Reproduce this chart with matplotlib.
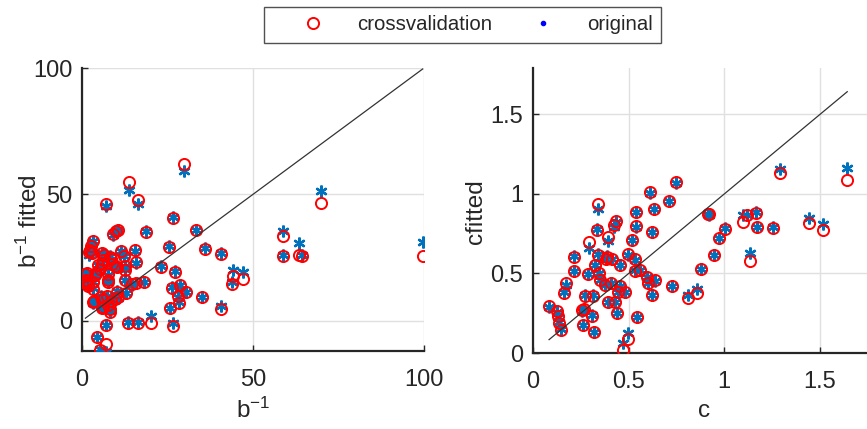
import numpy as np
import matplotlib
matplotlib.use("Agg")
import matplotlib.pyplot as plt
from matplotlib.lines import Line2D

plt.rcParams['font.family'] = ['Liberation Sans', 'DejaVu Sans']
plt.rcParams['mathtext.fontset'] = 'custom'
plt.rcParams['mathtext.rm'] = 'Liberation Sans'
plt.rcParams['mathtext.it'] = 'Liberation Sans:italic'

# b^-1: measured value, fit on all data (original), fit in cross validation
b_inv = [1.0, 1.1, 1.2, 1.3, 1.5, 1.8, 1.8, 2.0, 2.3, 2.6, 2.8, 3.1, 3.2, 3.3, 3.2, 3.5,
         3.8, 4.2, 4.5, 4.7, 5.2, 5.3, 5.6, 5.8, 5.8, 5.8, 5.8, 6.1, 6.1, 6.3, 7.0, 7.1,
         7.1, 7.2, 7.6, 7.6, 7.7, 7.7, 8.1, 8.2, 8.2, 8.6, 8.6, 8.7, 9.2, 9.6, 9.6, 10.0,
         10.1, 10.1, 10.5, 10.6, 11.5, 12.2, 12.5, 12.5, 12.6, 13.0, 13.5, 13.6, 14.5, 15.6,
         15.9, 15.9, 16.3, 16.4, 18.0, 18.8, 20.1, 23.2, 25.4, 25.8, 26.2, 26.5, 26.6, 27.2,
         28.1, 28.3, 28.7, 29.7, 30.4, 33.2, 35.0, 36.0, 40.6, 40.7, 43.8, 44.2, 47.0, 58.7,
         58.7, 63.4, 64.4, 70.0, 99.6]
b_orig = [18.2, 16.0, 14.5, 15.5, 18.9, 13.6, 14.2, 26.0, 28.1, 29.3, 26.8, 31.5, 15.5, 12.9, 7.0, 7.8,
          18.2, 18.8, -6.5, 22.1, -11.2, 20.8, 9.6, 8.3, 5.0, 22.8, 26.8, 5.7, 24.1, 25.6, -12.5, 45.3,
          -1.6, 9.6, 15.5, 18.2, 16.2, 6.3, 3.7, 25.4, 4.3, 7.6, 24.1, 22.8, 34.0, 21.5, 8.3, 35.3,
          11.6, 21.5, 9.0, 35.8, 27.4, 25.4, 20.4, 16.2, 21.5, 10.9, -0.5, 51.8, 14.2, 27.7,
          23.0, 14.9, 46.2, -0.5, 15.2, 35.3, 1.7, 21.5, 29.4, 5.2, 13.3, 41.0, -0.9, 19.5,
          9.4, 7.2, 14.2, 59.4, 11.4, 36.0, 9.4, 28.6, 6.0, 26.7, 15.5, 19.9, 19.1, 35.6,
          25.8, 30.7, 26.0, 51.2, 31.1]
b_cv = [18.4, 16.2, 14.8, 15.3, 19.0, 13.9, 14.5, 27.0, 28.0, 29.5, 26.6, 31.7, 15.3, 12.7, 7.2, 7.6,
        18.0, 19.0, -6.6, 22.0, -11.6, 20.6, 9.4, 8.2, 5.1, 22.9, 26.9, 5.5, 24.0, 25.8, -9.3, 46.2,
        -1.8, 9.8, 15.4, 18.4, 16.0, 6.1, 3.6, 25.2, 4.5, 7.8, 24.3, 22.6, 34.2, 21.7, 8.5, 35.5,
        11.5, 21.3, 9.2, 36.0, 27.6, 25.6, 20.2, 16.0, 21.7, 11.1, -0.9, 54.7, 14.4, 27.9,
        23.2, 15.1, 47.8, -0.9, 15.4, 35.1, -0.9, 21.3, 29.2, 5.0, 13.1, 40.8, -2.2, 19.1,
        9.6, 7.0, 14.0, 62.1, 11.2, 35.8, 9.2, 28.4, 4.6, 26.5, 14.6, 17.5, 16.5, 33.4,
        25.4, 26.1, 25.4, 46.4, 25.6]

# c: measured value, original fit, cross validation fit
c_val = [0.084, 0.124, 0.129, 0.136, 0.146, 0.164, 0.171, 0.216, 0.216, 0.255, 0.263, 0.268,
         0.272, 0.289, 0.293, 0.310, 0.315, 0.320, 0.324, 0.333, 0.338, 0.341, 0.345, 0.350,
         0.376, 0.380, 0.385, 0.392, 0.394, 0.408, 0.415, 0.425, 0.429, 0.434, 0.438, 0.446,
         0.453, 0.455, 0.472, 0.481, 0.498, 0.498, 0.516, 0.533, 0.533, 0.537, 0.538, 0.542,
         0.559, 0.594, 0.603, 0.612, 0.620, 0.624, 0.634, 0.638, 0.712, 0.725, 0.746, 0.812,
         0.856, 0.877, 0.916, 0.922, 0.945, 0.974, 1.004, 1.100, 1.117, 1.134, 1.166, 1.169,
         1.253, 1.291, 1.444, 1.514, 1.643]
c_orig = [0.290, 0.255, 0.228, 0.192, 0.150, 0.384, 0.430, 0.612, 0.518, 0.266, 0.176, 0.272,
          0.362, 0.497, 0.658, 0.236, 0.362, 0.134, 0.553, 0.778, 0.904, 0.620, 0.500, 0.459,
          0.428, 0.589, 0.610, 0.706, 0.323, 0.438, 0.589, 0.795, 0.319, 0.826, 0.250, 0.386,
          0.424, 0.553, 0.061, 0.386, 0.124, 0.616, 0.711, 0.585, 0.522, 0.792, 0.889, 0.228,
          0.522, 0.480, 0.438, 1.005, 0.365, 0.763, 0.904, 0.455, 0.958, 0.421, 1.070, 0.365,
          0.400, 0.526, 0.874, 0.868, 0.616, 0.721, 0.785, 0.868, 0.868, 0.627, 0.887, 0.794,
          0.795, 1.155, 0.847, 0.811, 1.162]
c_cv = [0.298, 0.262, 0.232, 0.187, 0.145, 0.379, 0.438, 0.606, 0.514, 0.268, 0.176, 0.275,
        0.358, 0.497, 0.700, 0.233, 0.358, 0.130, 0.553, 0.774, 0.935, 0.616, 0.505, 0.459,
        0.428, 0.592, 0.605, 0.731, 0.323, 0.438, 0.589, 0.805, 0.319, 0.830, 0.250, 0.386,
        0.424, 0.553, 0.019, 0.386, 0.086, 0.620, 0.711, 0.589, 0.518, 0.799, 0.889, 0.228,
        0.522, 0.480, 0.438, 1.010, 0.365, 0.763, 0.904, 0.459, 0.958, 0.421, 1.078, 0.344,
        0.379, 0.526, 0.874, 0.872, 0.616, 0.721, 0.778, 0.826, 0.868, 0.579, 0.882, 0.794,
        0.788, 1.130, 0.816, 0.774, 1.088]

blue = (0.0, 0.447, 0.741)
axcol = (0.15, 0.15, 0.15)
tick_fs = 17
label_fs = 17.5

fig = plt.figure(figsize=(8.67, 4.29), dpi=100)
ax1 = fig.add_axes([82 / 867, 78 / 429, 342 / 867, 283 / 429])
ax2 = fig.add_axes([533 / 867, 76 / 429, 342 / 867, 285 / 429])


def scatter_panel(ax, x, y_orig, y_cv):
    ax.plot(x, y_orig, linestyle='none', marker=(6, 2, 0), markersize=8.5,
            markeredgewidth=1.7, color=blue, zorder=3)
    ax.plot(x, y_cv, linestyle='none', marker='o', markersize=8,
            markerfacecolor='none', markeredgecolor='red', markeredgewidth=1.4, zorder=4)
    lo, hi = min(x), max(x)
    ax.plot([lo, hi], [lo, hi], color=(0.2, 0.2, 0.2), linewidth=0.9, zorder=5)
    ax.grid(True, color=(0.88, 0.88, 0.88), linewidth=1.0)
    ax.set_axisbelow(True)
    for side in ('top', 'right'):
        ax.spines[side].set_visible(False)
    for side in ('left', 'bottom'):
        ax.spines[side].set_color(axcol)
        ax.spines[side].set_linewidth(1.6)
    ax.tick_params(direction='in', length=4, width=1, colors=axcol,
                   labelsize=tick_fs, labelcolor=axcol)
    ax.tick_params(axis='x', pad=13)
    ax.tick_params(axis='y', pad=7)


scatter_panel(ax1, b_inv, b_orig, b_cv)
ax1.set_xlim(0, 100)
ax1.set_ylim(-12, 100)
ax1.set_xticks([0, 50, 100])
ax1.set_yticks([0, 50, 100])
ax1.set_xlabel('b$^{-1}$', fontsize=label_fs, color=axcol, labelpad=5)
ax1.set_ylabel('b$^{-1}$ fitted', fontsize=label_fs, color=axcol)
ax1.yaxis.set_label_coords(-0.118, 0.459)

scatter_panel(ax2, c_val, c_orig, c_cv)
ax2.set_xlim(0, 1.788)
ax2.set_ylim(0, 1.792)
ax2.set_xticks([0, 0.5, 1, 1.5])
ax2.set_yticks([0, 0.5, 1, 1.5])
ax2.set_xticklabels(['0', '0.5', '1', '1.5'])
ax2.set_yticklabels(['0', '0.5', '1', '1.5'])
ax2.set_xlabel('c', fontsize=label_fs, color=axcol, labelpad=5)
ax2.set_ylabel('cfitted', fontsize=label_fs, color=axcol)
ax2.yaxis.set_label_coords(-0.135, 0.496)

handles = [
    Line2D([], [], linestyle='none', marker='o', markersize=8, markerfacecolor='none',
           markeredgecolor='red', markeredgewidth=1.4),
    Line2D([], [], linestyle='none', marker='.', markersize=6, color='blue'),
]
leg = fig.legend(handles, ['crossvalidation', 'original'], loc='center',
                 bbox_to_anchor=(462.5 / 867, 1 - 25 / 429), ncol=2, fontsize=14.7,
                 handlelength=4.0, handletextpad=0.2, columnspacing=0.45,
                 borderpad=0.4, fancybox=False, frameon=True)
leg.get_frame().set_edgecolor(axcol)
leg.get_frame().set_linewidth(1.0)
for t in leg.get_texts():
    t.set_color(axcol)

fig.savefig('out.png', dpi=100)
